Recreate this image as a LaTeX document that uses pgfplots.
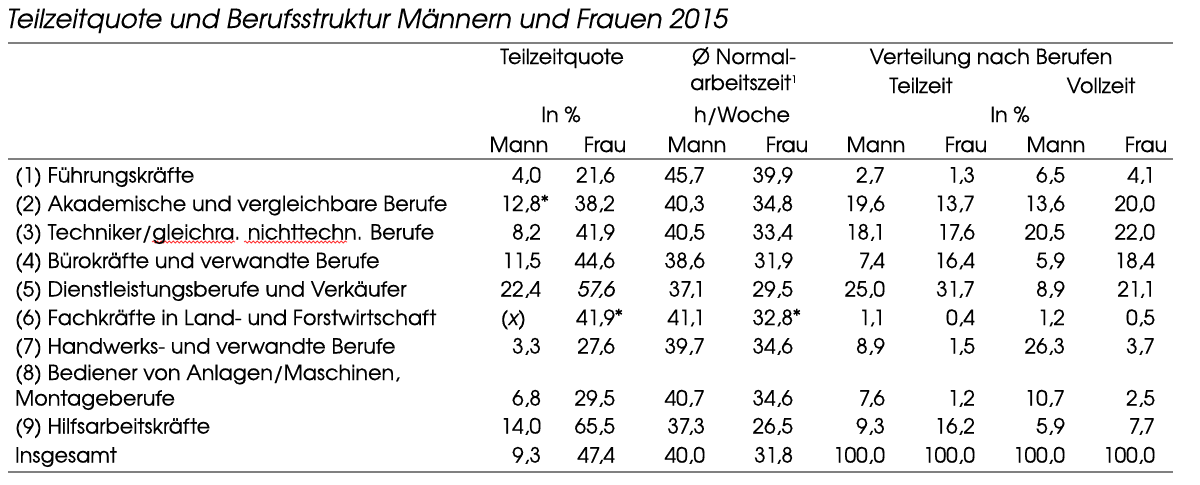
\documentclass[border=0pt]{standalone}
\usepackage{pgfplots}
\pgfplotsset{compat=1.18}
\usepackage{pgfplotstable}
\usepackage{fontspec}
\setmainfont{TeX Gyre Adventor}[FakeBold=0.4]
\newfontfamily\titlefont{TeX Gyre Adventor}[FakeBold=0.1]
\usetikzlibrary{decorations.pathmorphing}

\newcommand{\stern}{\rlap{\raisebox{0.25ex}{\fontsize{9}{9}\selectfont *}}}

% row labels, y = baseline in px (top down)
\pgfplotstableread[col sep=semicolon]{
y;label
182.5;(1) Führungskräfte
211;(2) Akademische und vergleichbare Berufe
239.5;(3) Techniker/gleichra. nichttechn. Berufe
268;(4) Bürokräfte und verwandte Berufe
296.5;(5) Dienstleistungsberufe und Verkäufer
325;(6) Fachkräfte in Land- und Forstwirtschaft
353.5;(7) Handwerks- und verwandte Berufe
380;(8) Bediener von Anlagen/Maschinen,
405.5;Montageberufe
433.5;(9) Hilfsarbeitskräfte
462.5;Insgesamt
}\labels

% tm/tf Teilzeitquote, nm/nf Normalarbeitszeit, pm/pf Teilzeit, vm/vf Vollzeit
\pgfplotstableread[col sep=semicolon]{
y;tm;tf;nm;nf;pm;pf;vm;vf
182.5;4,0;21,6;45,7;39,9;2,7;1,3;6,5;4,1
211;12,8\stern;38,2;40,3;34,8;19,6;13,7;13,6;20,0
239.5;8,2;41,9;40,5;33,4;18,1;17,6;20,5;22,0
268;11,5;44,6;38,6;31,9;7,4;16,4;5,9;18,4
296.5;22,4;\itshape 57,6;37,1;29,5;25,0;31,7;8,9;21,1
325;\itshape (x)\kern7.5pt;41,9\stern;41,1;32,8\stern;1,1;0,4;1,2;0,5
353.5;3,3;27,6;39,7;34,6;8,9;1,5;26,3;3,7
405.5;6,8;29,5;40,7;34,6;7,6;1,2;10,7;2,5
433.5;14,0;65,5;37,3;26,5;9,3;16,2;5,9;7,7
462.5;9,3;47,4;40,0;31,8;100,0;100,0;100,0;100,0
}\data

\pgfplotsset{
  txt/.style={only marks, mark size=0pt, mark options={draw=none, fill=none},
    nodes near coords, point meta=explicit symbolic,
    nodes near coords align={anchor=base east}, forget plot},
  txtw/.style={txt, nodes near coords align={anchor=base west}},
}

\begin{document}
\begin{tikzpicture}[font=\fontsize{10.4}{12}\selectfont]
\begin{axis}[
    scale only axis, width=600pt, height=242pt,
    xmin=0, xmax=1200, ymin=0, ymax=484, y dir=reverse,
    hide axis, clip=false,
]
\draw[draw=none] (axis cs:0,0) rectangle (axis cs:1200,484);

% title and rules
\node[anchor=base west, inner sep=0pt, font=\fontsize{13.1}{15}\titlefont\itshape]
  at (axis cs:6,28) {Teilzeitquote und Berufsstruktur Männern und Frauen 2015};
\draw[gray, line width=1.1pt] (axis cs:8,43) -- (axis cs:1173,43);
\draw[gray, line width=1.1pt] (axis cs:8,159) -- (axis cs:1173,159);
\draw[gray, line width=1.1pt] (axis cs:8,472) -- (axis cs:1173,472);

% header
\path[every node/.style={anchor=base, inner sep=0pt}]
  (axis cs:562,64) node {Teilzeitquote}
  (axis cs:744,64) node {Ø Normal-}
  (axis cs:744,90) node {arbeitszeit\textsuperscript{\tiny 1}}
  (axis cs:991,64) node {Verteilung nach Berufen}
  (axis cs:921,93) node {Teilzeit}
  (axis cs:1101,93) node {Vollzeit}
  (axis cs:561,122) node {In \%}
  (axis cs:742,122) node {h/Woche}
  (axis cs:1010,122) node {In \%}
  (axis cs:519,152) node {Mann}
  (axis cs:605,152) node {Frau}
  (axis cs:697,152) node {Mann}
  (axis cs:787,152) node {Frau}
  (axis cs:876,152) node {Mann}
  (axis cs:966,152) node {Frau}
  (axis cs:1056,152) node {Mann}
  (axis cs:1146,152) node {Frau};

% row labels
\addplot[txtw] table[x expr=8, y=y, meta=label] {\labels};

% values
\addplot[txt] table[x expr=548,  y=y, meta=tm] {\data};
\addplot[txt] table[x expr=622,  y=y, meta=tf] {\data};
\addplot[txt] table[x expr=712,  y=y, meta=nm] {\data};
\addplot[txt] table[x expr=800,  y=y, meta=nf] {\data};
\addplot[txt] table[x expr=892,  y=y, meta=pm] {\data};
\addplot[txt] table[x expr=982,  y=y, meta=pf] {\data};
\addplot[txt] table[x expr=1072, y=y, meta=vm] {\data};
\addplot[txt] table[x expr=1162, y=y, meta=vf] {\data};

% spell-check squiggles
\draw[red!80, line width=0.4pt, decorate,
  decoration={snake, segment length=2pt, amplitude=0.5pt}]
  (axis cs:152,242) -- (axis cs:235,242);
\draw[red!80, line width=0.4pt, decorate,
  decoration={snake, segment length=2pt, amplitude=0.5pt}]
  (axis cs:244,242) -- (axis cs:347,242);
\end{axis}
\end{tikzpicture}
\end{document}
